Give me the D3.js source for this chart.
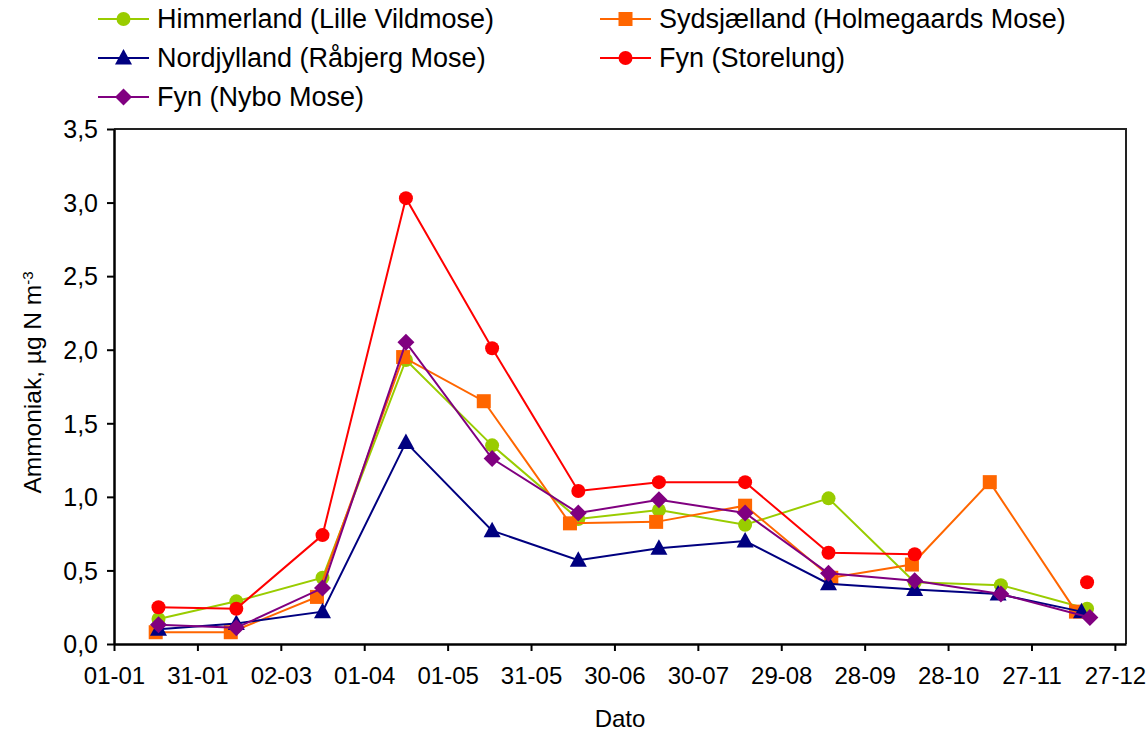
<!DOCTYPE html>
<html>
<head>
<meta charset="utf-8">
<script src="https://cdn.jsdelivr.net/npm/d3@7"></script>
<style>
  body { margin: 0; background: #fff; }
  svg text { font-family: "Liberation Sans", Arial, sans-serif; fill: #000; }
</style>
</head>
<body>
<div id="chart"></div>
<script>
// tick labels on the date axis (dd-mm, non leap year)
const xTickLabels = ["01-01", "31-01", "02-03", "01-04", "01-05", "31-05", "30-06",
  "30-07", "29-08", "28-09", "28-10", "27-11", "27-12"];
const yTicks = [0, 0.5, 1, 1.5, 2, 2.5, 3, 3.5];

// sampling dates
const datesCommon = ["17-01", "14-02", "17-03", "16-04", "17-05", "17-06", "16-07",
  "16-08", "15-09", "16-10", "16-11", "17-12"];
const datesSyd = ["16-01", "12-02", "15-03", "15-04", "14-05", "14-06", "15-07",
  "16-08", "16-09", "15-10", "12-11", "13-12"];
const datesNord = ["17-01", "14-02", "17-03", "16-04", "17-05", "17-06", "16-07",
  "16-08", "15-09", "16-10", "15-11", "15-12"];
const datesNybo = ["17-01", "14-02", "17-03", "16-04", "17-05", "17-06", "16-07",
  "16-08", "15-09", "16-10", "16-11", "18-12"];

// ammonia, µg N m-3
const himmerland = [0.17, 0.29, 0.45, 1.93, 1.35, 0.85, 0.91, 0.81, 0.99, 0.42, 0.40, 0.24];
const sydsjaelland = [0.08, 0.08, 0.32, 1.95, 1.65, 0.82, 0.83, 0.94, 0.45, 0.54, 1.10, 0.22];
const nordjylland = [0.10, 0.14, 0.22, 1.37, 0.77, 0.57, 0.65, 0.70, 0.41, 0.37, 0.34, 0.22];
const storelung = [0.25, 0.24, 0.74, 3.03, 2.01, 1.04, 1.10, 1.10, 0.62, 0.61, null, 0.42];
const nybo = [0.13, 0.11, 0.38, 2.05, 1.26, 0.89, 0.98, 0.89, 0.48, 0.43, 0.34, 0.18];

const parseDay = d3.timeParse("%d-%m");

const series = [
  { name: "Himmerland (Lille Vildmose)", dates: datesCommon, values: himmerland, color: "#99CC00", symbol: "circle", col: 0, row: 0 },
  { name: "Sydsjælland (Holmegaards Mose)", dates: datesSyd, values: sydsjaelland, color: "#FF6600", symbol: "square", col: 1, row: 0 },
  { name: "Nordjylland (Råbjerg Mose)", dates: datesNord, values: nordjylland, color: "#000080", symbol: "triangle", col: 0, row: 1 },
  { name: "Fyn (Storelung)", dates: datesCommon, values: storelung, color: "#FF0000", symbol: "circle", col: 1, row: 1 },
  { name: "Fyn (Nybo Mose)", dates: datesNybo, values: nybo, color: "#800080", symbol: "diamond", col: 0, row: 2 },
];

const width = 1146, height = 734;
const margin = { top: 129, right: 20, bottom: 90, left: 114 };

const svg = d3.select("#chart").append("svg")
  .attr("width", width)
  .attr("height", height);

const x = d3.scaleTime()
  .domain([parseDay("01-01"), parseDay("31-12")])
  .range([margin.left, width - margin.right]);

const y = d3.scaleLinear()
  .domain([0, 3.5])
  .range([height - margin.bottom, margin.top]);

// frame (top + right)
svg.append("path")
  .attr("d", `M${x.range()[0]},${y(3.5)}H${x.range()[1]}V${y(0)}`)
  .attr("fill", "none")
  .attr("stroke", "#222")
  .attr("stroke-width", 2);

// axes
const xAxis = d3.axisBottom(x)
  .tickValues(xTickLabels.map(parseDay))
  .tickFormat(d3.timeFormat("%d-%m"))
  .tickSize(7)
  .tickSizeOuter(0);

const gx = svg.append("g")
  .attr("transform", `translate(0,${y(0)})`)
  .call(xAxis);
gx.select(".domain").attr("stroke", "#000").attr("stroke-width", 2.5);
gx.selectAll(".tick line").attr("stroke", "#000").attr("stroke-width", 2);
gx.selectAll(".tick text").attr("dy", 0).attr("y", 40).style("font-size", "24px");

const yAxis = d3.axisLeft(y)
  .tickValues(yTicks)
  .tickFormat(d => d3.format(".1f")(d).replace(".", ","))
  .tickSize(7)
  .tickSizeOuter(0);

const gy = svg.append("g")
  .attr("transform", `translate(${x.range()[0]},0)`)
  .call(yAxis);
gy.select(".domain").attr("stroke", "#000").attr("stroke-width", 2.5);
gy.selectAll(".tick line").attr("stroke", "#000").attr("stroke-width", 2);
gy.selectAll(".tick text").attr("x", -16).attr("dy", "0.35em").style("font-size", "25px");

// axis titles
svg.append("text")
  .attr("x", (x.range()[0] + x.range()[1]) / 2)
  .attr("y", 727)
  .attr("text-anchor", "middle")
  .style("font-size", "24px")
  .text("Dato");

const yTitle = svg.append("text")
  .attr("transform", `translate(41,${(y(0) + y(3.5)) / 2 - 4}) rotate(-90)`)
  .attr("text-anchor", "middle")
  .style("font-size", "24.5px");
yTitle.append("tspan").text("Ammoniak, µg N m");
yTitle.append("tspan").attr("baseline-shift", "super").style("font-size", "15px").text("-3");

// symbols
function drawSymbol(g, type, color, cx, cy) {
  if (type === "circle") {
    g.append("circle").attr("cx", cx).attr("cy", cy).attr("r", 7).attr("fill", color);
  } else if (type === "square") {
    g.append("rect").attr("x", cx - 7).attr("y", cy - 7).attr("width", 14).attr("height", 14).attr("fill", color);
  } else if (type === "triangle") {
    g.append("path").attr("d", `M${cx},${cy - 9}L${cx + 8.5},${cy + 6.5}L${cx - 8.5},${cy + 6.5}Z`).attr("fill", color);
  } else if (type === "diamond") {
    g.append("path").attr("d", `M${cx},${cy - 8.5}L${cx + 8.5},${cy}L${cx},${cy + 8.5}L${cx - 8.5},${cy}Z`).attr("fill", color);
  }
}

const line = d3.line()
  .defined(d => d.v !== null)
  .x(d => x(d.date))
  .y(d => y(d.v));

series.forEach(s => {
  const pts = s.values.map((v, i) => ({ date: parseDay(s.dates[i]), v }));
  const g = svg.append("g");
  g.append("path")
    .datum(pts)
    .attr("d", line)
    .attr("fill", "none")
    .attr("stroke", s.color)
    .attr("stroke-width", 2);
  pts.filter(p => p.v !== null).forEach(p => drawSymbol(g, s.symbol, s.color, x(p.date), y(p.v)));
});

// legend
const legendCols = [98, 600];
const legendRows = [19, 58, 97];
series.forEach(s => {
  const lx = legendCols[s.col], ly = legendRows[s.row];
  const g = svg.append("g");
  g.append("line")
    .attr("x1", lx).attr("x2", lx + 51)
    .attr("y1", ly).attr("y2", ly)
    .attr("stroke", s.color).attr("stroke-width", 2);
  drawSymbol(g, s.symbol, s.color, lx + 25.5, ly);
  g.append("text")
    .attr("x", lx + 59)
    .attr("y", ly)
    .attr("dy", "0.35em")
    .style("font-size", "27px")
    .text(s.name);
});
</script>
</body>
</html>
